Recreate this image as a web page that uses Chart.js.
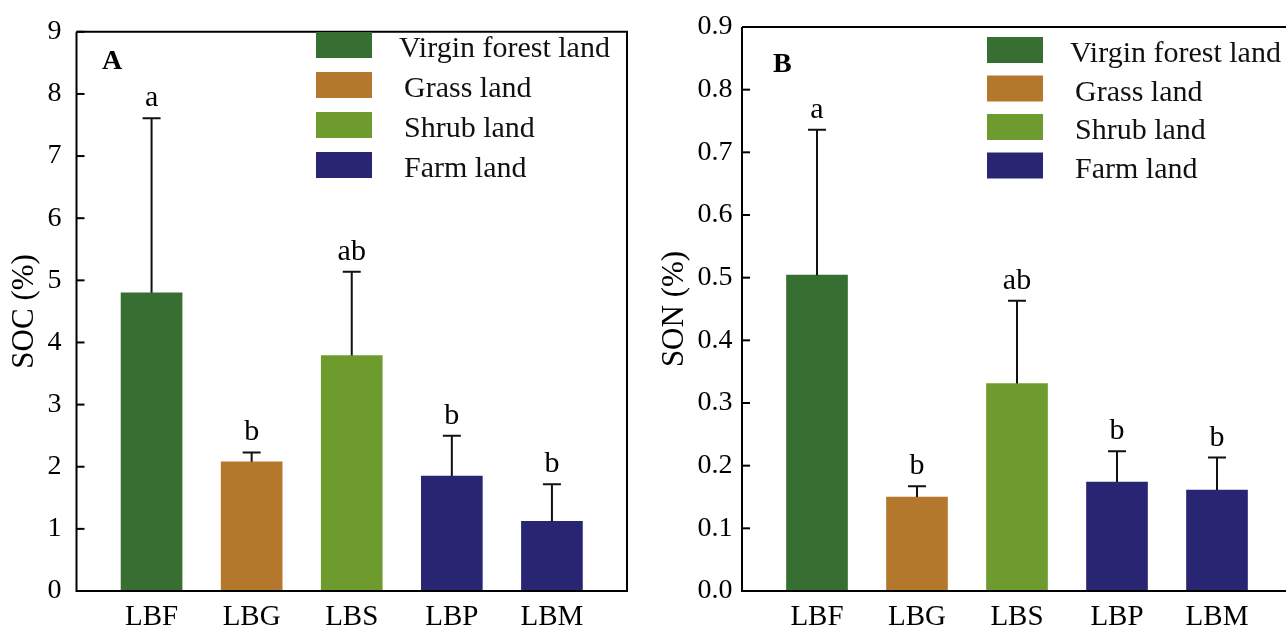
<!DOCTYPE html>
<html>
<head>
<meta charset="utf-8">
<script src="https://cdn.jsdelivr.net/npm/chart.js@4.4.1/dist/chart.umd.min.js"></script>
<style>
  html, body { margin: 0; padding: 0; background: #fff; }
  #wrap { width: 1286px; height: 630px; position: relative; overflow: hidden; }
  canvas { position: absolute; top: 0; }
  #chartA { left: 0; }
  #chartB { left: 643px; }
</style>
</head>
<body>
<div id="wrap">
  <canvas id="chartA" width="643" height="630"></canvas>
  <canvas id="chartB" width="643" height="630"></canvas>
</div>
<script>
'use strict';

// Data
var categories = ['LBF', 'LBG', 'LBS', 'LBP', 'LBM'];

var socMean   = [4.80, 2.08, 3.79, 1.85, 1.12];
var socErrTop = [7.61, 2.23, 5.14, 2.50, 1.72];
var socLetters = ['a', 'b', 'ab', 'b', 'b'];

var sonMean   = [0.504, 0.150, 0.331, 0.174, 0.161];
var sonErrTop = [0.736, 0.167, 0.463, 0.223, 0.213];
var sonLetters = ['a', 'b', 'ab', 'b', 'b'];

var landUses = ['Virgin forest land', 'Grass land', 'Shrub land', 'Farm land'];
var landColors = ['#376e32', '#b4782d', '#6e9b2d', '#282672'];
var barColors = [landColors[0], landColors[1], landColors[2], landColors[3], landColors[3]];

var SERIF = "'Liberation Serif', 'Times New Roman', serif";

//Extras: frame, inner ticks, error bars, letters, legend, panel tag
var extrasPlugin = {
    id: 'extras',
    afterDraw: function(chart, args, opts){
        var ctx = chart.ctx;
        var area = chart.chartArea;
        var xs = chart.scales.x, ys = chart.scales.y;
        ctx.save();

        //error bars
        ctx.strokeStyle = '#111';
        ctx.lineWidth = 2;
        opts.errTop.forEach(function(v, i){
            var x = xs.getPixelForValue(i);
            var y0 = ys.getPixelForValue(opts.mean[i]);
            var y1 = ys.getPixelForValue(v);
            ctx.beginPath();
            ctx.moveTo(x, y0);
            ctx.lineTo(x, y1);
            ctx.moveTo(x - 9, y1);
            ctx.lineTo(x + 9, y1);
            ctx.stroke();
        });

        //letters
        ctx.fillStyle = '#000';
        ctx.font = '30px ' + SERIF;
        ctx.textAlign = 'center';
        ctx.textBaseline = 'alphabetic';
        opts.letters.forEach(function(t, i){
            ctx.fillText(t, xs.getPixelForValue(i), ys.getPixelForValue(opts.errTop[i]) - 12);
        });

        //frame
        ctx.strokeStyle = '#000';
        ctx.lineWidth = 2;
        ctx.beginPath();
        ctx.moveTo(area.left, area.top);
        ctx.lineTo(area.left, area.bottom);
        ctx.lineTo(area.right, area.bottom);
        if (opts.rightBorder) {
            ctx.lineTo(area.right, area.top);
        } else {
            ctx.moveTo(area.right, area.top);
        }
        ctx.lineTo(area.left, area.top);
        ctx.stroke();

        //inner ticks on y
        ys.ticks.forEach(function(t){
            var y = ys.getPixelForValue(t.value);
            ctx.beginPath();
            ctx.moveTo(area.left, y);
            ctx.lineTo(area.left + 8, y);
            ctx.stroke();
        });

        //legend
        ctx.font = '30px ' + SERIF;
        ctx.textAlign = 'left';
        landUses.forEach(function(name, i){
            var top = opts.legendTop + i * opts.legendStep;
            ctx.fillStyle = landColors[i];
            ctx.fillRect(opts.legendX, top, 56, 26);
            ctx.fillStyle = '#111';
            ctx.fillText(name, opts.legendX + 83 + (i > 0 ? 5 : 0), top + 25);
        });

        //panel tag
        ctx.font = 'bold 28px ' + SERIF;
        ctx.fillStyle = '#000';
        ctx.fillText(opts.tag, opts.tagX, opts.tagY);

        ctx.restore();
    }
};

function makeChart(id, mean, cfg){
    var ctx = document.getElementById(id).getContext('2d');
    return new Chart(ctx, {
        type: 'bar',
        data: {
            datasets: [{
                data: mean.map(function(v, i){ return {x: i, y: v}; }),
                backgroundColor: barColors,
                borderWidth: 0,
                barThickness: 61
            }]
        },
        options: {
            responsive: false,
            animation: false,
            devicePixelRatio: 1,
            layout: { padding: { top: 27, left: 0, right: cfg.padRight, bottom: 0 } },
            plugins: {
                legend: { display: false },
                tooltip: { enabled: false },
                extras: cfg.extras
            },
            scales: {
                x: {
                    type: 'linear',
                    offset: false,
                    min: -0.75,
                    max: cfg.xMax,
                    grid: { display: false, drawTicks: false, offset: false },
                    border: { display: false },
                    afterBuildTicks: function(s){
                        s.ticks = categories.map(function(c, i){ return {value: i}; });
                    },
                    afterFit: function(s){ s.height = 39; },
                    ticks: {
                        padding: 9,
                        color: '#000',
                        font: { family: SERIF, size: 29 },
                        callback: function(v){ return categories[v]; }
                    }
                },
                y: {
                    min: 0,
                    max: cfg.yMax,
                    grid: { display: false, drawTicks: false },
                    border: { display: false },
                    afterFit: function(s){ s.width = cfg.axisLeft; },
                    ticks: {
                        stepSize: cfg.step,
                        padding: cfg.tickPad,
                        color: '#000',
                        font: { family: SERIF, size: 28 },
                        callback: cfg.fmt
                    },
                    title: {
                        display: true,
                        text: cfg.title,
                        color: '#000',
                        padding: { top: cfg.titlePad, bottom: 0 },
                        font: { family: SERIF, size: 31 }
                    }
                }
            }
        },
        plugins: [extrasPlugin]
    });
}

makeChart('chartA', socMean, {
    padRight: 16,
    xMax: 4.75,
    yMax: 9,
    step: 1,
    axisLeft: 76.5,
    tickPad: 15,
    titlePad: 6.4,
    title: 'SOC (%)',
    fmt: function(v){ return v.toFixed(0); },
    extras: {
        mean: socMean, errTop: socErrTop, letters: socLetters,
        rightBorder: true,
        legendX: 316, legendTop: 32, legendStep: 40,
        tag: 'A', tagX: 102, tagY: 69
    }
});

makeChart('chartB', sonMean, {
    padRight: 0,
    xMax: 4.69,
    yMax: 0.9,
    step: 0.1,
    axisLeft: 99,
    tickPad: 9.5,
    titlePad: 13.4,
    title: 'SON (%)',
    fmt: function(v){ return v.toFixed(1); },
    extras: {
        mean: sonMean, errTop: sonErrTop, letters: sonLetters,
        rightBorder: false,
        legendX: 344, legendTop: 37, legendStep: 38.5,
        tag: 'B', tagX: 130, tagY: 72
    }
});
</script>
</body>
</html>
